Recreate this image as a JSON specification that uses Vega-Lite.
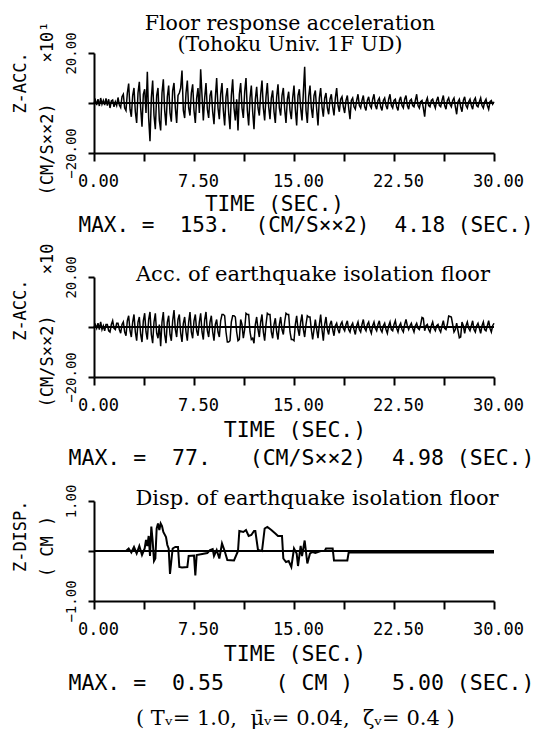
{
  "$schema": "https://vega.github.io/schema/vega-lite/v6.json",
  "autosize": {"type": "none"},
  "padding": {"left": 94, "top": 53, "right": 448, "bottom": 689},
  "background": "white",
  "config": {
    "view": {"stroke": null},
    "axis": {"domainColor": "black", "domainWidth": 2, "tickColor": "black", "tickWidth": 2, "labelColor": "black", "titleColor": "black", "labelFont": "DejaVu Sans Mono", "titleFont": "DejaVu Sans Mono", "titleFontWeight": "normal", "grid": false},
    "title": {"font": "DejaVu Serif", "fontWeight": "normal", "color": "black"}
  },
  "title": {"text": "(\u00a0Tᵥ=\u00a01.0,\u00a0\u00a0μ̄ᵥ=\u00a00.04,\u00a0\u00a0ζᵥ=\u00a00.4\u00a0)", "orient": "bottom", "anchor": "start", "frame": "group", "dx": 42, "offset": 14, "fontSize": 21, "baseline": "top"},
  "datasets": {
    "p1": [
{"t":0.0,"v":0},{"t":0.1,"v":1.2},{"t":0.2,"v":-0.8},{"t":0.3,"v":1.5},{"t":0.4,"v":-1.2},{"t":0.5,"v":2.0},{"t":0.6,"v":-0.5},{"t":0.7,"v":1.0},{"t":0.8,"v":-0.8},{"t":0.9,"v":1.8},
{"t":1.0,"v":-1.0},{"t":1.1,"v":1.5},{"t":1.2,"v":-2.0},{"t":1.3,"v":0.8},{"t":1.4,"v":1.2},{"t":1.5,"v":-1.5},{"t":1.6,"v":0.5},{"t":1.7,"v":-1.0},{"t":1.8,"v":2.2},{"t":1.9,"v":-0.8},
{"t":2.0,"v":-1.8},{"t":2.1,"v":2.5},{"t":2.2,"v":3.5},{"t":2.3,"v":-2.0},{"t":2.4,"v":-3.0},{"t":2.5,"v":4.0},{"t":2.6,"v":7.8},{"t":2.7,"v":-2.5},{"t":2.8,"v":-5.5},{"t":2.9,"v":3.0},
{"t":3.0,"v":6.0},{"t":3.1,"v":-3.5},{"t":3.2,"v":-8.0},{"t":3.3,"v":4.0},{"t":3.4,"v":8.5},{"t":3.5,"v":-2.0},{"t":3.6,"v":-9.5},{"t":3.7,"v":3.5},{"t":3.8,"v":5.5},{"t":3.9,"v":-4.0},
{"t":4.0,"v":12.5},{"t":4.1,"v":-6.0},{"t":4.2,"v":-15.3},{"t":4.3,"v":2.0},{"t":4.4,"v":9.0},{"t":4.5,"v":-5.0},{"t":4.6,"v":-10.5},{"t":4.7,"v":3.0},{"t":4.8,"v":6.0},{"t":4.9,"v":-7.0},
{"t":5.0,"v":-11.0},{"t":5.1,"v":4.0},{"t":5.2,"v":9.5},{"t":5.3,"v":-3.0},{"t":5.4,"v":-9.0},{"t":5.5,"v":2.5},{"t":5.6,"v":7.0},{"t":5.7,"v":-4.0},{"t":5.8,"v":-7.5},{"t":5.9,"v":5.0},
{"t":6.0,"v":8.0},{"t":6.1,"v":-2.0},{"t":6.2,"v":-8.0},{"t":6.3,"v":3.0},{"t":6.4,"v":4.0},{"t":6.5,"v":6.0},{"t":6.6,"v":13.0},{"t":6.7,"v":-3.0},{"t":6.8,"v":-6.0},{"t":6.9,"v":4.0},
{"t":7.0,"v":9.0},{"t":7.1,"v":-2.0},{"t":7.2,"v":-5.0},{"t":7.3,"v":4.0},{"t":7.4,"v":7.5},{"t":7.5,"v":-3.0},{"t":7.6,"v":-8.0},{"t":7.7,"v":2.0},{"t":7.8,"v":6.0},{"t":7.9,"v":-4.0},
{"t":8.0,"v":13.5},{"t":8.1,"v":3.0},{"t":8.2,"v":-7.0},{"t":8.3,"v":2.0},{"t":8.4,"v":8.0},{"t":8.5,"v":-2.5},{"t":8.6,"v":-6.0},{"t":8.7,"v":3.0},{"t":8.8,"v":5.0},{"t":8.9,"v":-3.5},
{"t":9.0,"v":-8.5},{"t":9.1,"v":2.0},{"t":9.2,"v":10.0},{"t":9.3,"v":-2.0},{"t":9.4,"v":-6.5},{"t":9.5,"v":3.5},{"t":9.6,"v":8.0},{"t":9.7,"v":-3.0},{"t":9.8,"v":-9.0},{"t":9.9,"v":2.5},
{"t":10.0,"v":6.0},{"t":10.1,"v":-4.0},{"t":10.2,"v":-10.5},{"t":10.3,"v":3.0},{"t":10.4,"v":9.5},{"t":10.5,"v":-2.0},{"t":10.6,"v":-7.0},{"t":10.7,"v":1.5},{"t":10.8,"v":-11.0},{"t":10.9,"v":3.5},
{"t":11.0,"v":8.0},{"t":11.1,"v":-2.0},{"t":11.2,"v":-6.0},{"t":11.3,"v":4.5},{"t":11.4,"v":10.0},{"t":11.5,"v":-3.0},{"t":11.6,"v":-9.0},{"t":11.7,"v":2.0},{"t":11.8,"v":7.0},{"t":11.9,"v":-3.5},
{"t":12.0,"v":-10.5},{"t":12.1,"v":1.5},{"t":12.2,"v":6.5},{"t":12.3,"v":-2.0},{"t":12.4,"v":-5.0},{"t":12.5,"v":3.5},{"t":12.6,"v":9.0},{"t":12.7,"v":-2.0},{"t":12.8,"v":-7.0},{"t":12.9,"v":2.5},
{"t":13.0,"v":8.0},{"t":13.1,"v":-1.5},{"t":13.2,"v":-6.5},{"t":13.3,"v":2.0},{"t":13.4,"v":5.0},{"t":13.5,"v":-3.5},{"t":13.6,"v":-8.0},{"t":13.7,"v":2.5},{"t":13.8,"v":7.5},{"t":13.9,"v":-2.0},
{"t":14.0,"v":-5.0},{"t":14.1,"v":3.0},{"t":14.2,"v":6.0},{"t":14.3,"v":-2.5},{"t":14.4,"v":-8.0},{"t":14.5,"v":1.5},{"t":14.6,"v":4.5},{"t":14.7,"v":-3.0},{"t":14.8,"v":-6.5},{"t":14.9,"v":2.0},
{"t":15.0,"v":7.0},{"t":15.1,"v":-2.5},{"t":15.2,"v":-9.0},{"t":15.3,"v":3.0},{"t":15.4,"v":5.5},{"t":15.5,"v":-2.0},{"t":15.6,"v":-7.0},{"t":15.7,"v":4.0},{"t":15.8,"v":14.5},{"t":15.9,"v":-3.0},
{"t":16.0,"v":-8.0},{"t":16.1,"v":2.5},{"t":16.2,"v":7.0},{"t":16.3,"v":-2.0},{"t":16.4,"v":-6.0},{"t":16.5,"v":3.0},{"t":16.6,"v":5.0},{"t":16.7,"v":-2.5},{"t":16.8,"v":-9.0},{"t":16.9,"v":2.0},
{"t":17.0,"v":6.0},{"t":17.1,"v":-1.5},{"t":17.2,"v":-5.5},{"t":17.3,"v":2.0},{"t":17.4,"v":4.0},{"t":17.5,"v":-2.0},{"t":17.6,"v":-4.5},{"t":17.7,"v":1.5},{"t":17.8,"v":3.5},{"t":17.9,"v":-1.5},
{"t":18.0,"v":-5.0},{"t":18.1,"v":2.0},{"t":18.2,"v":6.0},{"t":18.3,"v":-1.0},{"t":18.4,"v":-3.5},{"t":18.5,"v":1.5},{"t":18.6,"v":2.5},{"t":18.7,"v":-1.5},{"t":18.8,"v":-4.0},{"t":18.9,"v":1.0},
{"t":19.0,"v":3.0},{"t":19.1,"v":-2.0},{"t":19.2,"v":-6.5},{"t":19.3,"v":1.0},{"t":19.4,"v":2.0},{"t":19.5,"v":-1.5},{"t":19.6,"v":-2.5},{"t":19.7,"v":1.0},{"t":19.8,"v":3.5},{"t":19.9,"v":-1.0},
{"t":20.0,"v":-2.0},{"t":20.1,"v":1.0},{"t":20.2,"v":3.0},{"t":20.3,"v":-1.5},{"t":20.4,"v":-3.0},{"t":20.5,"v":1.0},{"t":20.6,"v":2.5},{"t":20.7,"v":-1.0},{"t":20.8,"v":-2.0},{"t":20.9,"v":1.5},
{"t":21.0,"v":3.5},{"t":21.1,"v":-1.0},{"t":21.2,"v":-2.5},{"t":21.3,"v":1.0},{"t":21.4,"v":2.0},{"t":21.5,"v":-1.5},{"t":21.6,"v":-3.0},{"t":21.7,"v":1.0},{"t":21.8,"v":2.0},{"t":21.9,"v":-1.0},
{"t":22.0,"v":-2.5},{"t":22.1,"v":1.5},{"t":22.2,"v":3.5},{"t":22.3,"v":-1.0},{"t":22.4,"v":-2.0},{"t":22.5,"v":1.0},{"t":22.6,"v":1.5},{"t":22.7,"v":-1.5},{"t":22.8,"v":-3.0},{"t":22.9,"v":1.0},
{"t":23.0,"v":2.5},{"t":23.1,"v":-1.0},{"t":23.2,"v":-2.0},{"t":23.3,"v":1.5},{"t":23.4,"v":3.0},{"t":23.5,"v":-1.0},{"t":23.6,"v":-2.5},{"t":23.7,"v":1.0},{"t":23.8,"v":1.5},{"t":23.9,"v":-1.0},
{"t":24.0,"v":-1.5},{"t":24.1,"v":1.0},{"t":24.2,"v":3.5},{"t":24.3,"v":-1.0},{"t":24.4,"v":-2.0},{"t":24.5,"v":0.5},{"t":24.6,"v":1.0},{"t":24.7,"v":-2.0},{"t":24.8,"v":-5.5},{"t":24.9,"v":0.5},
{"t":25.0,"v":2.0},{"t":25.1,"v":-1.0},{"t":25.2,"v":-1.5},{"t":25.3,"v":1.0},{"t":25.4,"v":1.5},{"t":25.5,"v":-0.5},{"t":25.6,"v":-2.0},{"t":25.7,"v":1.0},{"t":25.8,"v":2.5},{"t":25.9,"v":-1.0},
{"t":26.0,"v":-1.5},{"t":26.1,"v":1.0},{"t":26.2,"v":3.0},{"t":26.3,"v":-1.0},{"t":26.4,"v":-2.5},{"t":26.5,"v":1.0},{"t":26.6,"v":2.0},{"t":26.7,"v":-0.5},{"t":26.8,"v":-1.5},{"t":26.9,"v":1.0},
{"t":27.0,"v":2.0},{"t":27.1,"v":-1.5},{"t":27.2,"v":-4.5},{"t":27.3,"v":0.5},{"t":27.4,"v":1.5},{"t":27.5,"v":-1.5},{"t":27.6,"v":-3.5},{"t":27.7,"v":1.0},{"t":27.8,"v":2.5},{"t":27.9,"v":-1.0},
{"t":28.0,"v":-2.0},{"t":28.1,"v":0.5},{"t":28.2,"v":1.5},{"t":28.3,"v":-1.0},{"t":28.4,"v":-2.5},{"t":28.5,"v":1.0},{"t":28.6,"v":2.0},{"t":28.7,"v":-1.0},{"t":28.8,"v":-1.5},{"t":28.9,"v":0.5},
{"t":29.0,"v":2.0},{"t":29.1,"v":-1.0},{"t":29.2,"v":-2.0},{"t":29.3,"v":0.5},{"t":29.4,"v":1.5},{"t":29.5,"v":-1.0},{"t":29.6,"v":-2.5},{"t":29.7,"v":0.5},{"t":29.8,"v":1.0},{"t":29.9,"v":-0.5},
{"t":30.0,"v":0.5}
    ],
    "p2": [
{"t":0.0,"v":0},{"t":0.1,"v":1.0},{"t":0.2,"v":-0.5},{"t":0.3,"v":1.5},{"t":0.4,"v":-1.0},{"t":0.5,"v":2.0},{"t":0.6,"v":-1.0},{"t":0.7,"v":0.5},{"t":0.8,"v":-1.5},{"t":0.9,"v":1.0},
{"t":1.0,"v":1.0},{"t":1.1,"v":-1.5},{"t":1.2,"v":-2.0},{"t":1.3,"v":1.0},{"t":1.4,"v":2.5},{"t":1.5,"v":-0.5},{"t":1.6,"v":-1.0},{"t":1.7,"v":1.5},{"t":1.8,"v":1.5},{"t":1.9,"v":-1.0},
{"t":2.0,"v":-2.5},{"t":2.1,"v":1.0},{"t":2.2,"v":2.0},{"t":2.3,"v":-2.0},{"t":2.4,"v":-3.5},{"t":2.5,"v":2.5},{"t":2.6,"v":4.5},{"t":2.7,"v":-1.5},{"t":2.8,"v":-4.0},{"t":2.9,"v":2.0},
{"t":3.0,"v":5.0},{"t":3.1,"v":-2.0},{"t":3.2,"v":-5.5},{"t":3.3,"v":2.0},{"t":3.4,"v":4.0},{"t":3.5,"v":-3.0},{"t":3.6,"v":-6.0},{"t":3.7,"v":2.5},{"t":3.8,"v":5.5},{"t":3.9,"v":-2.0},
{"t":4.0,"v":-5.0},{"t":4.1,"v":3.0},{"t":4.2,"v":6.0},{"t":4.3,"v":-3.0},{"t":4.4,"v":-6.5},{"t":4.5,"v":2.0},{"t":4.6,"v":5.5},{"t":4.7,"v":-2.5},{"t":4.8,"v":-4.5},{"t":4.9,"v":1.0},
{"t":5.0,"v":-7.7},{"t":5.1,"v":2.0},{"t":5.2,"v":6.0},{"t":5.3,"v":-3.0},{"t":5.4,"v":-6.5},{"t":5.5,"v":2.0},{"t":5.6,"v":4.5},{"t":5.7,"v":-3.0},{"t":5.8,"v":-5.5},{"t":5.9,"v":2.5},
{"t":6.0,"v":6.8},{"t":6.1,"v":-1.0},{"t":6.2,"v":-4.0},{"t":6.3,"v":3.0},{"t":6.4,"v":5.0},{"t":6.5,"v":-2.5},{"t":6.6,"v":-6.0},{"t":6.7,"v":1.5},{"t":6.8,"v":4.0},{"t":6.9,"v":-2.0},
{"t":7.0,"v":-5.5},{"t":7.1,"v":2.0},{"t":7.2,"v":6.0},{"t":7.3,"v":-2.0},{"t":7.4,"v":-4.5},{"t":7.5,"v":2.5},{"t":7.6,"v":5.0},{"t":7.7,"v":-1.5},{"t":7.8,"v":-3.5},{"t":7.9,"v":2.0},
{"t":8.0,"v":5.5},{"t":8.1,"v":-2.0},{"t":8.2,"v":-5.0},{"t":8.3,"v":3.0},{"t":8.4,"v":6.0},{"t":8.5,"v":-1.5},{"t":8.6,"v":-4.0},{"t":8.7,"v":2.0},{"t":8.8,"v":4.5},{"t":8.9,"v":-2.0},
{"t":9.0,"v":-5.5},{"t":9.1,"v":1.0},{"t":9.2,"v":3.0},{"t":9.3,"v":-2.0},{"t":9.4,"v":-4.0},{"t":9.5,"v":2.5},{"t":9.6,"v":5.0},{"t":9.7,"v":5.0},{"t":9.8,"v":4.5},{"t":9.9,"v":-2.0},
{"t":10.0,"v":-6.0},{"t":10.1,"v":-6.0},{"t":10.2,"v":-5.5},{"t":10.3,"v":2.0},{"t":10.4,"v":4.5},{"t":10.5,"v":4.5},{"t":10.6,"v":4.0},{"t":10.7,"v":-2.0},{"t":10.8,"v":-5.5},{"t":10.9,"v":-5.0},
{"t":11.0,"v":3.0},{"t":11.1,"v":1.0},{"t":11.2,"v":-4.5},{"t":11.3,"v":-1.0},{"t":11.4,"v":5.5},{"t":11.5,"v":5.0},{"t":11.6,"v":5.0},{"t":11.7,"v":-2.0},{"t":11.8,"v":-5.0},{"t":11.9,"v":-4.5},
{"t":12.0,"v":-6.5},{"t":12.1,"v":1.0},{"t":12.2,"v":4.0},{"t":12.3,"v":-1.0},{"t":12.4,"v":-4.0},{"t":12.5,"v":2.0},{"t":12.6,"v":5.0},{"t":12.7,"v":-2.0},{"t":12.8,"v":-5.5},{"t":12.9,"v":1.0},
{"t":13.0,"v":5.5},{"t":13.1,"v":5.0},{"t":13.2,"v":5.0},{"t":13.3,"v":-2.0},{"t":13.4,"v":-4.5},{"t":13.5,"v":1.0},{"t":13.6,"v":3.5},{"t":13.7,"v":-2.0},{"t":13.8,"v":-5.0},{"t":13.9,"v":1.0},
{"t":14.0,"v":4.0},{"t":14.1,"v":-1.0},{"t":14.2,"v":-3.0},{"t":14.3,"v":2.0},{"t":14.4,"v":5.5},{"t":14.5,"v":5.0},{"t":14.6,"v":5.0},{"t":14.7,"v":-2.0},{"t":14.8,"v":-5.0},{"t":14.9,"v":-5.0},
{"t":15.0,"v":-5.5},{"t":15.1,"v":1.0},{"t":15.2,"v":4.5},{"t":15.3,"v":-1.0},{"t":15.4,"v":-3.5},{"t":15.5,"v":2.0},{"t":15.6,"v":5.0},{"t":15.7,"v":-1.0},{"t":15.8,"v":-4.0},{"t":15.9,"v":1.0},
{"t":16.0,"v":4.5},{"t":16.1,"v":4.0},{"t":16.2,"v":4.0},{"t":16.3,"v":-1.0},{"t":16.4,"v":-5.0},{"t":16.5,"v":-1.0},{"t":16.6,"v":3.0},{"t":16.7,"v":-1.0},{"t":16.8,"v":-4.5},{"t":16.9,"v":1.0},
{"t":17.0,"v":5.0},{"t":17.1,"v":-1.0},{"t":17.2,"v":-5.5},{"t":17.3,"v":1.0},{"t":17.4,"v":4.0},{"t":17.5,"v":-1.0},{"t":17.6,"v":-3.0},{"t":17.7,"v":1.0},{"t":17.8,"v":2.5},{"t":17.9,"v":-1.0},
{"t":18.0,"v":-3.5},{"t":18.1,"v":0.5},{"t":18.2,"v":1.5},{"t":18.3,"v":-1.0},{"t":18.4,"v":-2.5},{"t":18.5,"v":1.0},{"t":18.6,"v":2.0},{"t":18.7,"v":-0.5},{"t":18.8,"v":-1.5},{"t":18.9,"v":1.0},
{"t":19.0,"v":2.5},{"t":19.1,"v":-1.0},{"t":19.2,"v":-2.0},{"t":19.3,"v":0.5},{"t":19.4,"v":1.5},{"t":19.5,"v":-1.0},{"t":19.6,"v":-3.0},{"t":19.7,"v":0.5},{"t":19.8,"v":2.0},{"t":19.9,"v":-1.0},
{"t":20.0,"v":-2.0},{"t":20.1,"v":1.0},{"t":20.2,"v":3.0},{"t":20.3,"v":-0.5},{"t":20.4,"v":-1.5},{"t":20.5,"v":1.0},{"t":20.6,"v":2.0},{"t":20.7,"v":-1.0},{"t":20.8,"v":-2.5},{"t":20.9,"v":0.5},
{"t":21.0,"v":2.0},{"t":21.1,"v":-0.5},{"t":21.2,"v":-1.5},{"t":21.3,"v":1.0},{"t":21.4,"v":2.5},{"t":21.5,"v":-1.0},{"t":21.6,"v":-2.0},{"t":21.7,"v":0.5},{"t":21.8,"v":1.5},{"t":21.9,"v":-1.0},
{"t":22.0,"v":-2.5},{"t":22.1,"v":0.5},{"t":22.2,"v":2.0},{"t":22.3,"v":-1.0},{"t":22.4,"v":-1.5},{"t":22.5,"v":1.0},{"t":22.6,"v":2.5},{"t":22.7,"v":-0.5},{"t":22.8,"v":-2.0},{"t":22.9,"v":0.5},
{"t":23.0,"v":1.5},{"t":23.1,"v":-1.0},{"t":23.2,"v":-2.0},{"t":23.3,"v":1.0},{"t":23.4,"v":3.0},{"t":23.5,"v":0.5},{"t":23.6,"v":-1.0},{"t":23.7,"v":0.5},{"t":23.8,"v":1.5},{"t":23.9,"v":-0.5},
{"t":24.0,"v":-2.0},{"t":24.1,"v":0.5},{"t":24.2,"v":1.5},{"t":24.3,"v":-0.5},{"t":24.4,"v":-1.0},{"t":24.5,"v":1.0},{"t":24.6,"v":3.8},{"t":24.7,"v":3.5},{"t":24.8,"v":-1.5},{"t":24.9,"v":0.5},
{"t":25.0,"v":1.0},{"t":25.1,"v":-1.0},{"t":25.2,"v":-2.0},{"t":25.3,"v":0.5},{"t":25.4,"v":2.0},{"t":25.5,"v":-0.5},{"t":25.6,"v":-1.5},{"t":25.7,"v":0.5},{"t":25.8,"v":1.0},{"t":25.9,"v":-1.0},
{"t":26.0,"v":-2.0},{"t":26.1,"v":0.5},{"t":26.2,"v":2.5},{"t":26.3,"v":-0.5},{"t":26.4,"v":-1.0},{"t":26.5,"v":1.0},{"t":26.6,"v":4.4},{"t":26.7,"v":4.2},{"t":26.8,"v":4.0},{"t":26.9,"v":1.0},
{"t":27.0,"v":-2.0},{"t":27.1,"v":-1.0},{"t":27.2,"v":1.5},{"t":27.3,"v":-1.5},{"t":27.4,"v":-4.3},{"t":27.5,"v":-4.0},{"t":27.6,"v":2.0},{"t":27.7,"v":0.5},{"t":27.8,"v":-2.5},{"t":27.9,"v":0.5},
{"t":28.0,"v":2.0},{"t":28.1,"v":-0.5},{"t":28.2,"v":-1.5},{"t":28.3,"v":0.5},{"t":28.4,"v":2.5},{"t":28.5,"v":-1.0},{"t":28.6,"v":-2.0},{"t":28.7,"v":0.5},{"t":28.8,"v":1.5},{"t":28.9,"v":-0.5},
{"t":29.0,"v":-2.5},{"t":29.1,"v":0.5},{"t":29.2,"v":2.0},{"t":29.3,"v":-1.0},{"t":29.4,"v":-1.5},{"t":29.5,"v":0.5},{"t":29.6,"v":2.5},{"t":29.7,"v":-0.5},{"t":29.8,"v":-2.0},{"t":29.9,"v":0.5},
{"t":30.0,"v":1.5}
    ],
    "p3": [
      {"t":0,"v":0},{"t":2.4,"v":0},{"t":2.6,"v":0.05},{"t":2.8,"v":-0.03},{"t":3.0,"v":0.08},{"t":3.2,"v":-0.05},{"t":3.4,"v":0.1},{"t":3.6,"v":-0.08},{"t":3.8,"v":0.05},{"t":3.9,"v":0.22},{"t":4.0,"v":0.1},{"t":4.1,"v":0.3},{"t":4.2,"v":-0.1},{"t":4.3,"v":0.49},{"t":4.4,"v":0.2},{"t":4.5,"v":-0.2},{"t":4.6,"v":-0.15},{"t":4.7,"v":0.45},{"t":4.8,"v":0.55},{"t":4.9,"v":0.42},{"t":5.0,"v":0.55},{"t":5.1,"v":0.5},{"t":5.2,"v":0.38},{"t":5.4,"v":0.28},{"t":5.5,"v":0.12},{"t":5.6,"v":0.05},{"t":5.7,"v":-0.46},{"t":5.8,"v":-0.2},{"t":5.9,"v":0.05},{"t":6.1,"v":0.08},{"t":6.3,"v":0.08},{"t":6.4,"v":-0.32},{"t":6.6,"v":-0.33},{"t":7.0,"v":-0.32},{"t":7.1,"v":-0.1},{"t":7.5,"v":-0.09},{"t":7.6,"v":-0.49},{"t":7.7,"v":-0.08},{"t":8.5,"v":-0.04},{"t":8.7,"v":0.02},{"t":8.9,"v":0.04},{"t":9.0,"v":-0.1},{"t":9.2,"v":0.02},{"t":9.4,"v":-0.15},{"t":9.6,"v":0.15},{"t":9.8,"v":0.0},{"t":10.0,"v":-0.18},{"t":10.5,"v":-0.19},{"t":10.8,"v":0.0},{"t":10.9,"v":0.4},{"t":11.2,"v":0.38},{"t":11.4,"v":0.42},{"t":11.6,"v":0.3},{"t":11.8,"v":0.32},{"t":12.0,"v":0.4},{"t":12.1,"v":0.4},{"t":12.3,"v":0.02},{"t":12.6,"v":0.0},{"t":12.8,"v":0.45},{"t":13.0,"v":0.48},{"t":13.3,"v":0.42},{"t":13.6,"v":0.35},{"t":13.8,"v":0.3},{"t":14.1,"v":0.3},{"t":14.2,"v":-0.15},{"t":14.4,"v":-0.22},{"t":14.6,"v":-0.2},{"t":14.8,"v":-0.32},{"t":15.0,"v":0.05},{"t":15.2,"v":-0.05},{"t":15.3,"v":-0.3},{"t":15.5,"v":0.1},{"t":15.6,"v":-0.1},{"t":15.8,"v":0.21},{"t":16.0,"v":-0.25},{"t":16.2,"v":-0.05},{"t":16.4,"v":-0.02},{"t":16.6,"v":-0.04},{"t":17.0,"v":0.0},{"t":17.3,"v":0.0},{"t":17.4,"v":0.05},{"t":17.9,"v":0.05},{"t":18.0,"v":-0.19},{"t":19.0,"v":-0.19},{"t":19.1,"v":-0.03},{"t":30.0,"v":-0.03}
    ],
    "zero": [{"v": 0}]
  },
  "vconcat": [
    {
      "width": 400, "height": 100,
      "title": {"text": ["Floor response acceleration", "(Tohoku Univ. 1F UD)"], "fontSize": 20.5, "lineHeight": 21, "anchor": "middle", "frame": "group", "baseline": "bottom", "dx": -4, "offset": -54},
      "encoding": {
        "y": {"field": "v", "type": "quantitative", "scale": {"domain": [-20, 20], "nice": false},
          "axis": {"values": [-20, 0, 20], "labelExpr": "datum.value == 0 ? '' : format(datum.value, '.2f')", "tickSize": 6, "labelAngle": 270, "labelAlign": "center", "labelBaseline": "bottom", "labelFontSize": 14, "labelPadding": 10,
            "title": ["\u200b\u00a0\u00a0\u00a0\u00a0\u00a0Z-ACC.", "(CM/S××2)\u00a0\u00a0\u00a0\u00a0×10¹"], "titleFontSize": 17, "titleAngle": 270, "titleAlign": "center", "titleBaseline": "bottom", "titleLineHeight": 27, "titleX": -65, "titleY": 55}}
      },
      "layer": [
        {"data": {"name": "zero"}, "mark": {"type": "rule", "color": "black", "strokeWidth": 2}, "encoding": {}},
        {"data": {"name": "p1"}, "mark": {"type": "line", "color": "black", "strokeWidth": 1.5},
          "encoding": {"x": {"field": "t", "type": "quantitative", "scale": {"domain": [0, 30], "nice": false},
            "axis": {"values": [0, 3.75, 7.5, 11.25, 15, 18.75, 22.5, 26.25, 30], "labelExpr": "datum.value % 7.5 == 0 ? format(datum.value, '.2f') : ''", "tickSize": 8, "labelFontSize": 17, "labelPadding": 12, "labelOffset": 4, "labelAngle": 0, "labelFlush": false, "labelOverlap": false,
              "title": ["\u200b\u00a0\u00a0\u00a0\u00a0\u00a0\u00a0\u00a0\u00a0\u00a0\u00a0TIME\u00a0(SEC.)", "MAX.\u00a0=\u00a0\u00a0153.\u00a0\u00a0(CM/S××2)\u00a0\u00a04.18\u00a0(SEC.)"], "titleFontSize": 21, "titleAlign": "left", "titleAnchor": "start", "titleBaseline": "top", "titleLineHeight": 21, "titleX": -16, "titleY": 40}}}}
      ]
    },
    {
      "width": 400, "height": 100,
      "title": {"text": "Acc. of earthquake isolation floor", "fontSize": 21, "anchor": "middle", "frame": "group", "baseline": "bottom", "dx": 19, "offset": -63},
      "encoding": {
        "y": {"field": "v", "type": "quantitative", "scale": {"domain": [-20, 20], "nice": false},
          "axis": {"values": [-20, 0, 20], "labelExpr": "datum.value == 0 ? '' : format(datum.value, '.2f')", "tickSize": 6, "labelAngle": 270, "labelAlign": "center", "labelBaseline": "bottom", "labelFontSize": 14, "labelPadding": 10,
            "title": ["\u200b\u00a0\u00a0\u00a0Z-ACC.", "(CM/S××2)\u00a0\u00a0\u00a0\u00a0×10"], "titleFontSize": 17, "titleAngle": 270, "titleAlign": "center", "titleBaseline": "bottom", "titleLineHeight": 27, "titleX": -65, "titleY": 48}}
      },
      "layer": [
        {"data": {"name": "zero"}, "mark": {"type": "rule", "color": "black", "strokeWidth": 2}, "encoding": {}},
        {"data": {"name": "p2"}, "mark": {"type": "line", "color": "black", "strokeWidth": 1.5},
          "encoding": {"x": {"field": "t", "type": "quantitative", "scale": {"domain": [0, 30], "nice": false},
            "axis": {"values": [0, 3.75, 7.5, 11.25, 15, 18.75, 22.5, 26.25, 30], "labelExpr": "datum.value % 7.5 == 0 ? format(datum.value, '.2f') : ''", "tickSize": 8, "labelFontSize": 17, "labelPadding": 12, "labelOffset": 4, "labelAngle": 0, "labelFlush": false, "labelOverlap": false,
              "title": ["\u200b\u00a0\u00a0\u00a0\u00a0\u00a0\u00a0\u00a0\u00a0\u00a0\u00a0\u00a0\u00a0TIME\u00a0(SEC.)", "MAX.\u00a0=\u00a0\u00a077.\u00a0\u00a0\u00a0(CM/S××2)\u00a0\u00a04.98\u00a0(SEC.)"], "titleFontSize": 21.5, "titleAlign": "left", "titleAnchor": "start", "titleBaseline": "top", "titleLineHeight": 28, "titleX": -26, "titleY": 42}}}}
      ]
    },
    {
      "width": 400, "height": 100,
      "title": {"text": "Disp. of earthquake isolation floor", "fontSize": 21, "anchor": "middle", "frame": "group", "baseline": "bottom", "dx": 23, "offset": -46},
      "encoding": {
        "y": {"field": "v", "type": "quantitative", "scale": {"domain": [-1, 1], "nice": false},
          "axis": {"values": [-1, 0, 1], "labelExpr": "datum.value == 0 ? '' : format(datum.value, '.2f')", "tickSize": 6, "labelAngle": 270, "labelAlign": "center", "labelBaseline": "bottom", "labelFontSize": 14, "labelPadding": 10,
            "title": ["\u200b\u00a0\u00a0Z-DISP.", "(\u00a0CM\u00a0)"], "titleFontSize": 17, "titleAngle": 270, "titleAlign": "center", "titleBaseline": "bottom", "titleLineHeight": 27, "titleX": -65, "titleY": 45}}
      },
      "layer": [
        {"data": {"name": "zero"}, "mark": {"type": "rule", "color": "black", "strokeWidth": 2}, "encoding": {}},
        {"data": {"name": "p3"}, "mark": {"type": "line", "color": "black", "strokeWidth": 2},
          "encoding": {"x": {"field": "t", "type": "quantitative", "scale": {"domain": [0, 30], "nice": false},
            "axis": {"values": [0, 3.75, 7.5, 11.25, 15, 18.75, 22.5, 26.25, 30], "labelExpr": "datum.value % 7.5 == 0 ? format(datum.value, '.2f') : ''", "tickSize": 8, "labelFontSize": 17, "labelPadding": 12, "labelOffset": 4, "labelAngle": 0, "labelFlush": false, "labelOverlap": false,
              "title": ["\u200b\u00a0\u00a0\u00a0\u00a0\u00a0\u00a0\u00a0\u00a0\u00a0\u00a0\u00a0\u00a0TIME\u00a0(SEC.)", "MAX.\u00a0=\u00a0\u00a00.55\u00a0\u00a0\u00a0\u00a0(\u00a0CM\u00a0)\u00a0\u00a0\u00a05.00\u00a0(SEC.)"], "titleFontSize": 21.5, "titleAlign": "left", "titleAnchor": "start", "titleBaseline": "top", "titleLineHeight": 29, "titleX": -26, "titleY": 42}}}}
      ]
    }
  ],
  "spacing": 124,
  "bounds": "flush"
}
